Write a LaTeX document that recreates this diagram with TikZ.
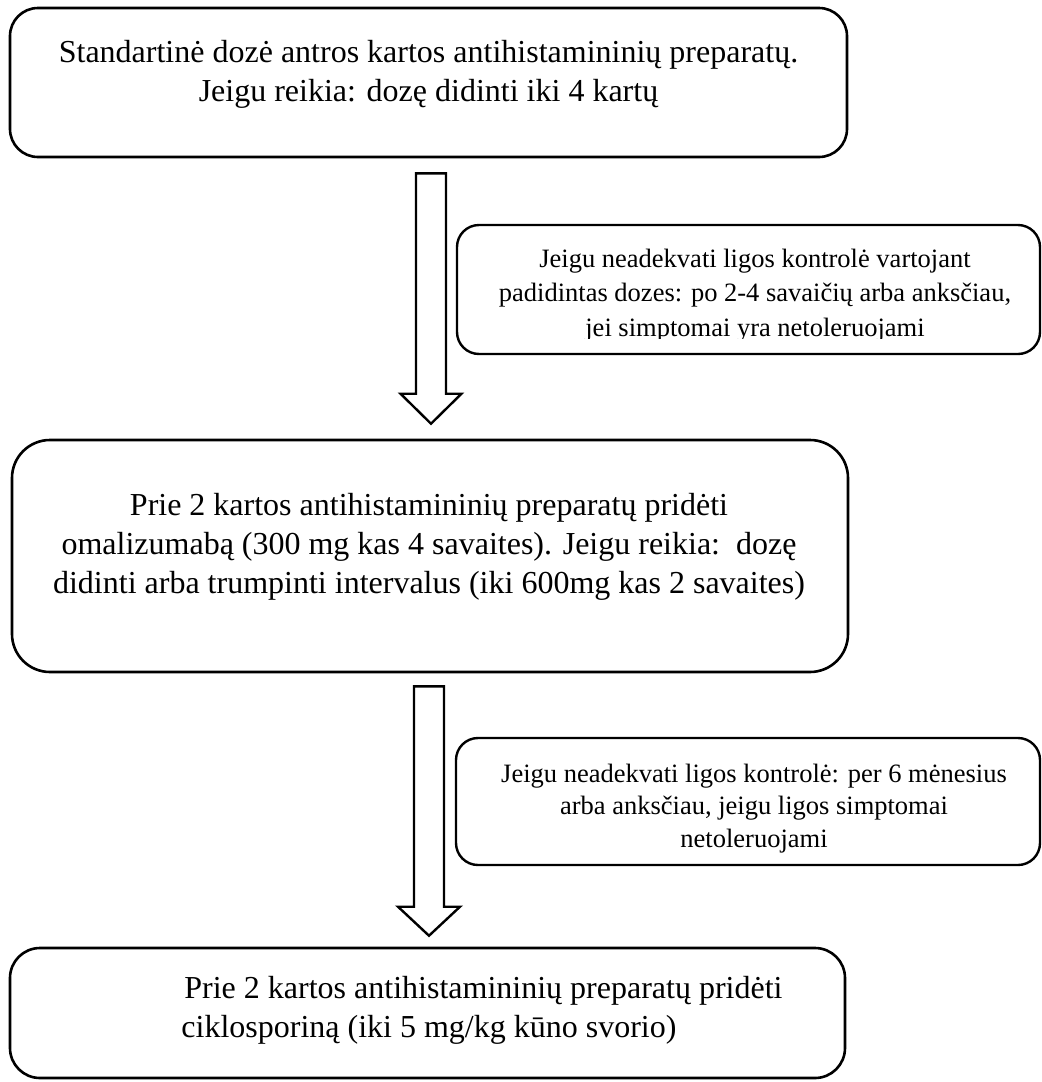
\documentclass[tikz,border=0pt]{standalone}
\usepackage{fontspec}
\setmainfont{Liberation Serif}
\usetikzlibrary{calc}
\begin{document}
\begin{tikzpicture}[x=0.5pt,y=-0.5pt,
  box/.style={draw, line width=1.3pt, rounded corners=#1, inner sep=0pt, fill=white},
  box/.default=14pt,
  maintext/.style={inner sep=0pt, font={\fontsize{16}{19.5}\selectfont}},
  labtext/.style={inner sep=0pt, font={\fontsize{13.25}{#1}\selectfont}},
  blockarrow/.style={draw, line width=1.2pt, line join=miter, fill=white}]
\useasboundingbox (0,0) rectangle (1042,1082);
% boxes
\node[box=14pt, minimum width=418.5pt, minimum height=74.5pt] (b1) at (428.5,82.5) {};
\node[box=19pt, minimum width=418pt, minimum height=116pt] (b2) at (430,556) {};
\node[box=15pt, minimum width=417.5pt, minimum height=65pt] (b3) at (427.5,1013) {};
\node[box=11pt, line width=1.2pt, minimum width=291.5pt, minimum height=64.5pt] (l1) at (748.5,289.5) {};
\node[box=11pt, line width=1.2pt, minimum width=292pt, minimum height=63.5pt] (l2) at (748,801.5) {};
% texts
\node[maintext, anchor=base] (t1) at (428.5,62) {\begin{tabular}[t]{@{}c@{}}Standartinė dozė antros kartos antihistamininių preparatų.\\Jeigu reikia: dozę didinti iki 4 kartų\end{tabular}};
\node[maintext, anchor=base] (t2) at (429,515) {\begin{tabular}[t]{@{}c@{}}Prie 2 kartos antihistamininių preparatų pridėti\\omalizumabą (300 mg kas 4 savaites). Jeigu reikia:\ \ dozę\\didinti arba trumpinti intervalus (iki 600mg kas 2 savaites)\end{tabular}};
\node[maintext, anchor=base west] (t3) at (181,998) {\begin{tabular}[t]{@{}l@{}}\hspace{1.5pt}Prie 2 kartos antihistamininių preparatų pridėti\\ciklosporiną (iki 5 mg/kg kūno svorio)\end{tabular}};
\begin{scope}
  \clip (457,225) rectangle (1040,338);
  \node[labtext=17.25, anchor=base] (tl1) at (755,267) {\begin{tabular}[t]{@{}c@{}}Jeigu neadekvati ligos kontrolė vartojant\\padidintas dozes: po 2-4 savaičių arba anksčiau,\\jei simptomai yra netoleruojami\end{tabular}};
\end{scope}
\node[labtext=16.25, anchor=base] (tl2) at (754,782) {\begin{tabular}[t]{@{}c@{}}Jeigu neadekvati ligos kontrolė: per 6 mėnesius\\arba anksčiau, jeigu ligos simptomai\\netoleruojami\end{tabular}};
% block arrows
\coordinate (a1top) at ($(b1.south)+(2.5,15)$);
\coordinate (a1tip) at ($(b2.north)+(1,-15)$);
\draw[blockarrow] ($(a1top)+(-15,0)$) -- ($(a1top)+(15,0)$) -- ($(a1tip)+(15,-30)$) -- ($(a1tip)+(30.5,-30)$) -- (a1tip) -- ($(a1tip)+(-30.5,-30)$) -- ($(a1tip)+(-15,-30)$) -- cycle;
\coordinate (a2top) at ($(b2.south)+(-1,13)$);
\coordinate (a2tip) at ($(b3.north)+(1.5,-11)$);
\draw[blockarrow] ($(a2top)+(-15,0)$) -- ($(a2top)+(15,0)$) -- ($(a2tip)+(15,-29)$) -- ($(a2tip)+(31,-29)$) -- (a2tip) -- ($(a2tip)+(-31,-29)$) -- ($(a2tip)+(-15,-29)$) -- cycle;
\end{tikzpicture}
\end{document}
